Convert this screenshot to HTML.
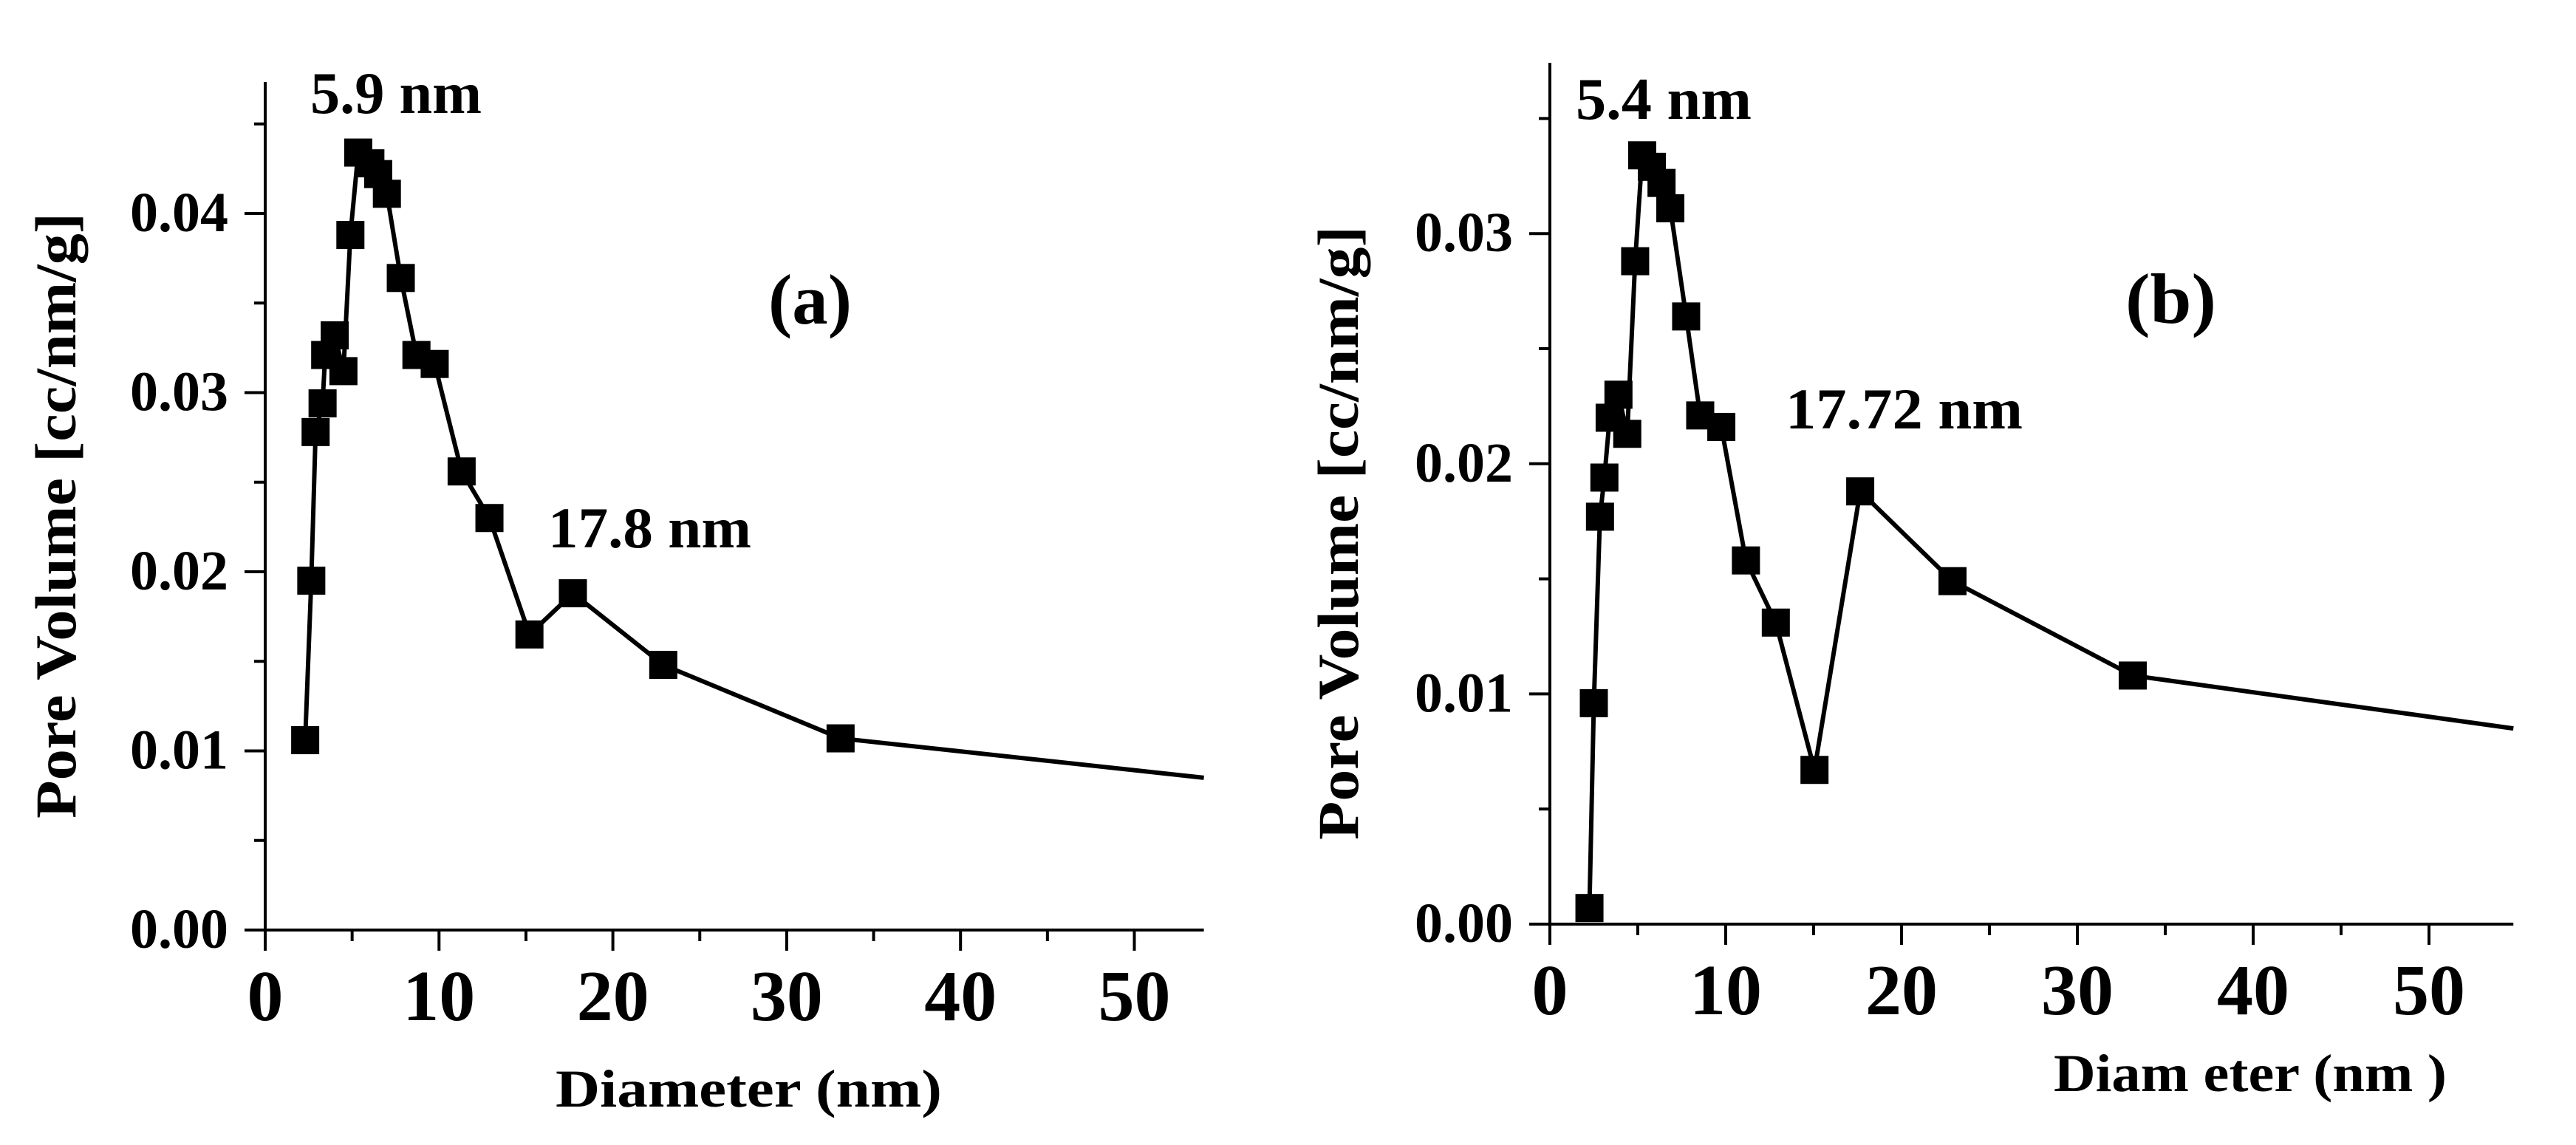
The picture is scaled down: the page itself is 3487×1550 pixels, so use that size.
<!DOCTYPE html>
<html><head><meta charset="utf-8"><style>
html,body{margin:0;padding:0;background:#fff;}
svg{display:block;}
text{font-family:"Liberation Serif",serif;font-weight:bold;fill:#000;}
</style></head><body>
<svg id="fig" width="3487" height="1550" viewBox="0 0 3487 1550" xmlns="http://www.w3.org/2000/svg"></svg>
<script>
// Panel (a) data
const diamA = [2.3, 2.65, 2.9, 3.3, 3.45, 4.0, 4.5, 4.9, 5.35, 6.05, 6.5, 7.0, 7.8, 8.7, 9.75, 11.3, 12.9, 15.2, 17.7, 22.9, 33.1];
const volA  = [0.0106, 0.0195, 0.0278, 0.0294, 0.0321, 0.0332, 0.0312, 0.0388, 0.0434, 0.0428, 0.0422, 0.0411, 0.0364, 0.0321, 0.0316, 0.0256, 0.0230, 0.0165, 0.0188, 0.0148, 0.0107];
const tailA = [54.0, 0.0085];
// Panel (b) data
const diamB = [2.25, 2.5, 2.85, 3.1, 3.4, 3.9, 4.4, 4.85, 5.25, 5.8, 6.35, 6.85, 7.75, 8.55, 9.75, 11.15, 12.85, 15.05, 17.65, 22.9, 33.15];
const volB  = [0.0007, 0.0096, 0.0177, 0.0194, 0.0220, 0.0230, 0.0213, 0.0288, 0.0334, 0.0329, 0.0322, 0.0311, 0.0264, 0.0221, 0.0216, 0.0158, 0.0131, 0.0067, 0.0188, 0.0149, 0.0108];
const tailB = [54.8, 0.0085];
const xTicks = [0, 10, 20, 30, 40, 50];
const yTicksA = ["0.00", "0.01", "0.02", "0.03", "0.04"];
const yTicksB = ["0.00", "0.01", "0.02", "0.03"];

const NS = "http://www.w3.org/2000/svg";
const svg = document.getElementById("fig");
function mk(tag, attrs, parent, txt){
  const e = document.createElementNS(NS, tag);
  for (const k in attrs) e.setAttribute(k, attrs[k]);
  if (txt !== undefined) e.textContent = txt;
  (parent || svg).appendChild(e);
  return e;
}

function panel(cfg){
  const g = mk("g", {});
  
  
  const X = v => cfg.x0 + (v - 0) * cfg.xs;
  const Y = v => cfg.y0 - v * cfg.ys;
  // axes
  const ax = mk("line", {x1: cfg.x0, y1: cfg.top, x2: cfg.x0, y2: cfg.y0, stroke:"#000","stroke-width":4}, g);
  
  
  const bx = mk("line", {x1: cfg.x0 - 28, y1: cfg.y0, x2: X(cfg.xmax), y2: cfg.y0, stroke:"#000","stroke-width":4}, g);
  
  
  // x ticks
  for (let v = 0; v <= cfg.xmax; v += 5) {
    const major = v % 10 === 0;
    const t = mk("line", {x1: X(v), y1: cfg.y0, x2: X(v), y2: cfg.y0 + (major ? 28 : 15), stroke:"#000","stroke-width":4}, g);
    
    
  }
  xTicks.forEach(v => {
    const t = mk("text", {x: X(v), y: cfg.y0 + 122, "font-size": 98, "text-anchor":"middle"}, g, String(v));
    
    
  });
  // y ticks
  for (let i = 0; i <= cfg.yminorCount; i++) {
    const v = i * 0.005;
    const major = i % 2 === 0;
    const t = mk("line", {x1: cfg.x0 - (major ? 28 : 15), y1: Y(v), x2: cfg.x0, y2: Y(v), stroke:"#000","stroke-width":4}, g);
    
    
  }
  cfg.yLabels.forEach(s => {
    const t = mk("text", {x: cfg.x0 - 50, y: Y(parseFloat(s)) + 24, "font-size": 76, "text-anchor":"end"}, g, s);
    
    
  });
  // series line
  let pts = cfg.xs_.map((d, i) => X(d) + "," + Y(cfg.ys_[i]));
  pts.push(X(cfg.tail[0]) + "," + Y(cfg.tail[1]));
  const pl = mk("polyline", {points: pts.join(" "), fill:"none", stroke:"#000", "stroke-width":6, "stroke-linejoin":"miter"}, g);
  
  
  cfg.xs_.forEach((d, i) => {
    const r = mk("rect", {x: X(d) - 19, y: Y(cfg.ys_[i]) - 19, width: 38, height: 38, fill:"#000"}, g);
    
    
  });
  // titles
  const xt = mk("text", {x: cfg.xtX, y: cfg.xtY, "font-size": 72, textLength: cfg.xtW, lengthAdjust:"spacingAndGlyphs"}, g, cfg.xtText);
  
  
  const yt = mk("text", {x: 0, y: 0, "font-size": 78, textLength: cfg.ytW, lengthAdjust:"spacingAndGlyphs", transform: `translate(${cfg.ytX},${cfg.ytBottom}) rotate(-90)`}, g, "Pore Volume [cc/nm/g]");
  
  
  cfg.notes.forEach(n => {
    const t = mk("text", {x: n[0], y: n[1], "font-size": n[3], textLength: n[4], lengthAdjust:"spacingAndGlyphs"}, g, n[2]);
    
    
  });
}

panel({name:"panel-a", x0:359, y0:1259, top:111, xs:23.53, ys:24250, xmax:54.0, yminorCount:9,
  xs_:diamA, ys_:volA, tail:tailA, yLabels:yTicksA,
  xtX:752, xtY:1498, xtW:523, xtText:"Diameter (nm)", ytX:102, ytBottom:1108, ytW:820,
  notes:[[420,153,"5.9 nm",80,232,"peak-label-5-9"],[742,741,"17.8 nm",78,275,"peak-label-17-8"],[1040,438,"(a)",96,113,"panel-label-a"]]});
panel({name:"panel-b", x0:2098, y0:1251, top:85, xs:23.8, ys:31160, xmax:54.8, yminorCount:7,
  xs_:diamB, ys_:volB, tail:tailB, yLabels:yTicksB,
  xtX:2780, xtY:1477, xtW:532, xtText:"Diam eter (nm )", ytX:1838, ytBottom:1137, ytW:831,
  notes:[[2133,161,"5.4 nm",80,238,"peak-label-5-4"],[2417,580,"17.72 nm",78,321,"peak-label-17-72"],[2877,437,"(b)",96,123,"panel-label-b"]]});
</script>
</body></html>
